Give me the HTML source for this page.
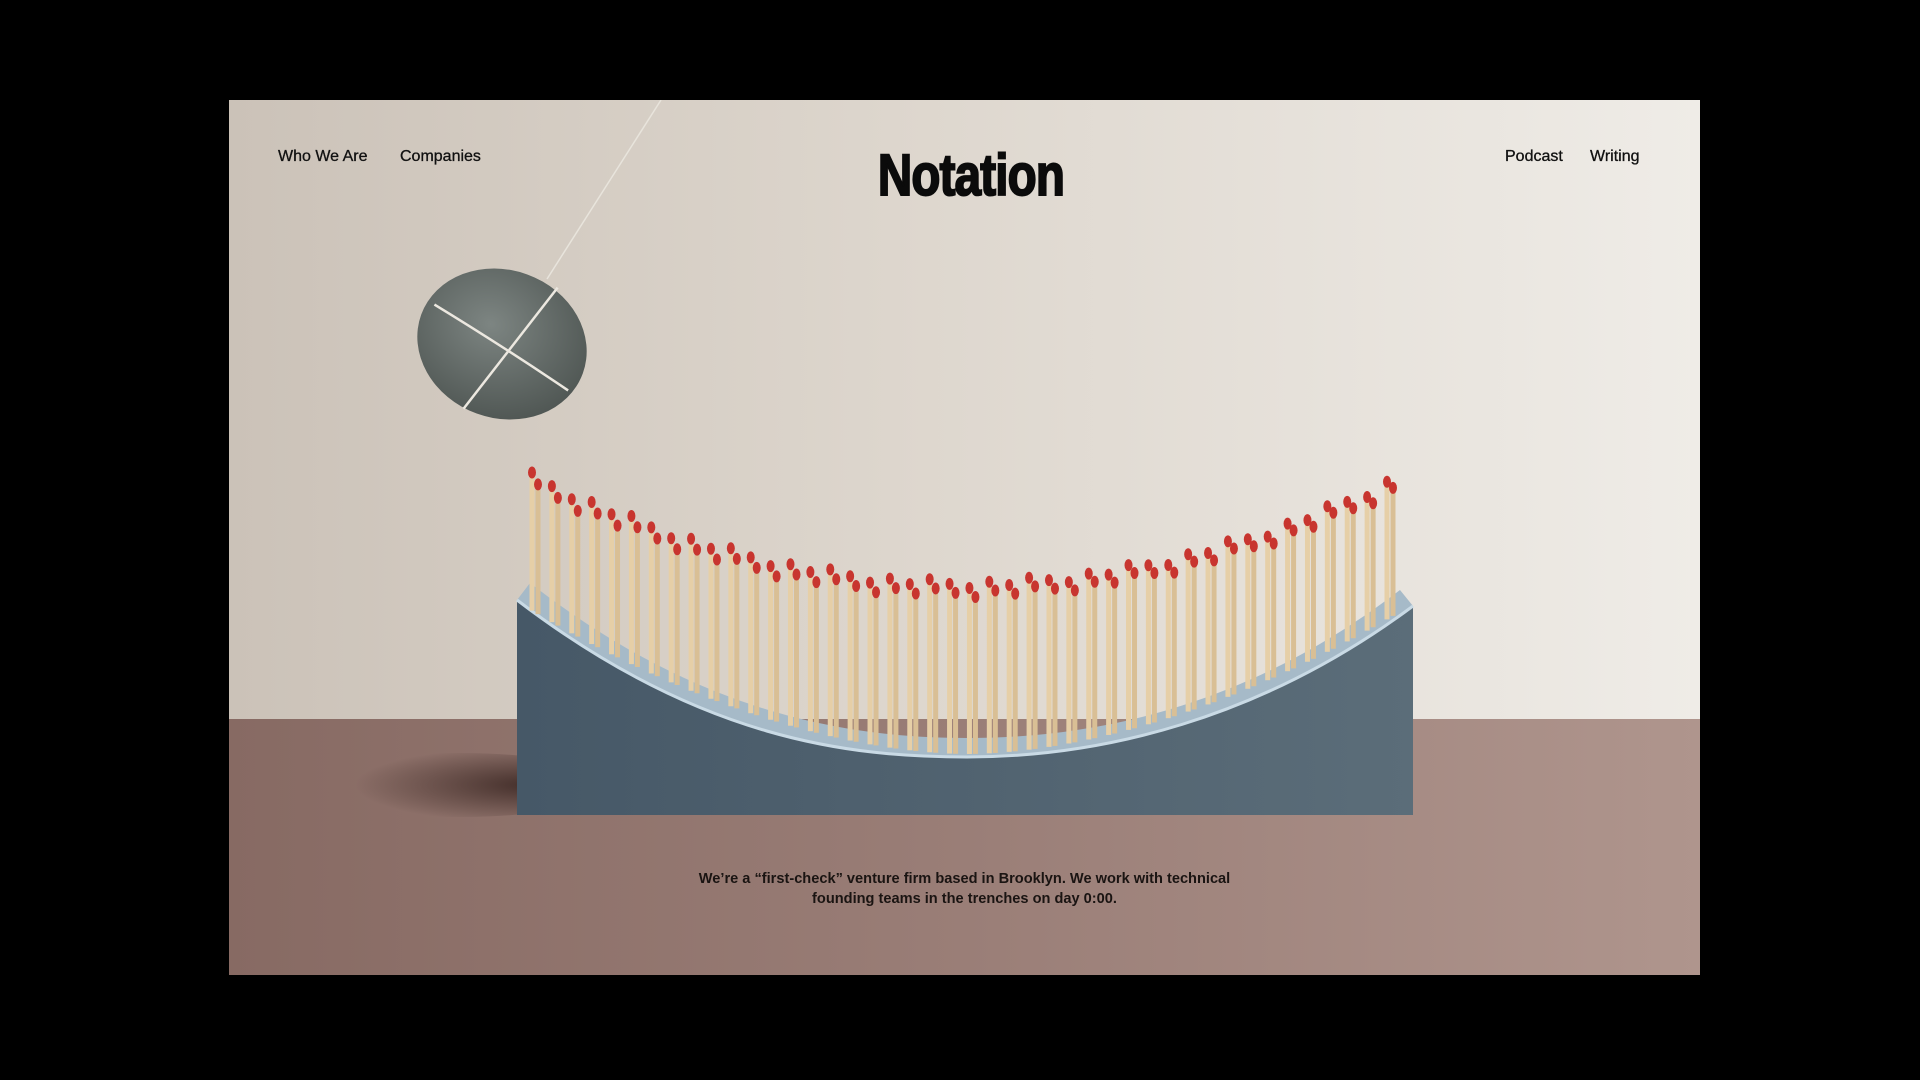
<!DOCTYPE html>
<html><head><meta charset="utf-8"><style>
html,body{margin:0;padding:0;background:#000;width:1920px;height:1080px;overflow:hidden}
#f{position:absolute;left:229px;top:100px;width:1471px;height:875px;overflow:hidden;background:linear-gradient(90deg,#cbc2b8 0%,#ddd6cd 45%,#efece7 100%)}
#floor{position:absolute;left:0;top:619px;width:1471px;height:256px;background:linear-gradient(90deg,#876a63 0%,#9a7e77 50%,#af958d 100%)}
.t{position:absolute;font-family:"Liberation Sans",sans-serif;color:#111;font-size:16px;white-space:nowrap;-webkit-text-stroke:0.3px #111}
#logo{position:absolute;left:632px;top:42px;width:187px;text-align:center;font-family:"Liberation Sans",sans-serif;font-weight:900;font-size:58px;color:#0b0b0b;transform:scaleX(0.82);transform-origin:center;letter-spacing:-1px;-webkit-text-stroke:2px #0b0b0b}
svg{position:absolute;left:0;top:0}
</style></head><body>
<div id="f">
<div id="floor"></div>
<svg width="1471" height="875" viewBox="229 100 1471 875" id="s">
<defs>
<radialGradient id="sh" cx="0.75" cy="0.5" r="0.6"><stop offset="0" stop-color="#3a2622" stop-opacity="0.9"/><stop offset="1" stop-color="#3a2622" stop-opacity="0"/></radialGradient>
<radialGradient id="st" cx="0.4" cy="0.4" r="0.7"><stop offset="0" stop-color="#7d8582"/><stop offset="1" stop-color="#4c5350"/></radialGradient>
<linearGradient id="bl" x1="0" x2="1"><stop offset="0" stop-color="#465867"/><stop offset="1" stop-color="#5b6d79"/></linearGradient>
</defs>
<ellipse cx="460" cy="785" rx="150" ry="32" fill="url(#sh)"/>
<line x1="661" y1="100" x2="547" y2="279" stroke="#e8e4dc" stroke-width="1.5"/>
<g transform="rotate(20 502 344)">
<ellipse cx="502" cy="344" rx="86" ry="74" fill="url(#st)"/>
<path d="M425 330 Q500 345 580 365" stroke="#ece8e0" stroke-width="2.5" fill="none"/>
<path d="M535 272 Q510 350 488 418" stroke="#ece8e0" stroke-width="2.5" fill="none"/>
</g>
<path d="M517 600 C700 740 850 757 967 757 C1100 757 1260 720 1413 606 L1413 815 L517 815 Z" fill="url(#bl)"/>
<path d="M517 600 L530 583 C700 715 850 738 967 738 C1100 738 1250 705 1400 590 L1413 606 C1260 720 1100 757 967 757 C850 757 700 740 517 600 Z" fill="#a6bac8"/>
<path d="M517 600 C700 740 850 757 967 757 C1100 757 1260 720 1413 606" stroke="#c9dae5" stroke-width="3" fill="none"/>
<g id="m"></g>
</svg>
<div class="t" style="left:49px;top:48px">Who We Are</div>
<div class="t" style="left:171px;top:48px">Companies</div>
<div class="t" style="left:1276px;top:48px">Podcast</div>
<div class="t" style="left:1361px;top:48px">Writing</div>
<div id="logo">Notation</div>
<div class="t" style="left:0;width:1471px;text-align:center;top:769px;line-height:20px;font-weight:bold;font-size:14.6px;color:#1a1412;-webkit-text-stroke:0">We’re a “first-check” venture firm based in Brooklyn. We work with technical<br>founding teams in the trenches on day 0:00.</div>
</div>
<script>
var g=document.getElementById('m'),h='';
function base(x){var t=(x-967)/446;return 757-150*Math.pow(Math.abs(t),1.8);}
function topy(x){var t=(x-967)/440;return 578-110*t*t;}
for(var i=0;i<44;i++){var x=535+i*(855/43);
 for(var k=0;k<2;k++){var xx=x+k*6-3,b=base(xx)-3,tp=topy(xx)+k*9+((i*7)%5)*2;
  h+='<rect x="'+(xx-2.5)+'" y="'+tp+'" width="5" height="'+(b-tp)+'" fill="'+(k?'#d9bf95':'#e6cfa7')+'"/>';
  h+='<ellipse cx="'+xx+'" cy="'+(tp+2)+'" rx="4" ry="6" fill="#c8352f"/>';}}
g.innerHTML=h;
</script>
</body></html>
